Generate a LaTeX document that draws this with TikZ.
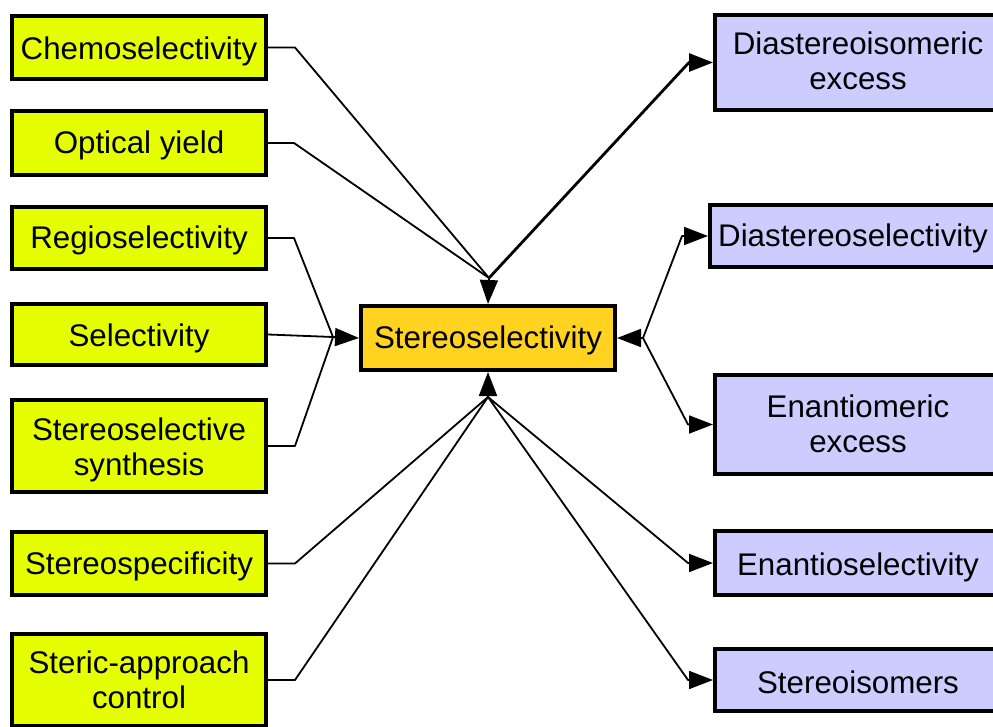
\documentclass[tikz,border=0pt]{standalone}
\usepackage{fontspec}
\setmainfont{Liberation Sans}
\usetikzlibrary{arrows.meta}
\definecolor{lyellow}{RGB}{229,255,0}
\definecolor{cgold}{RGB}{255,211,32}
\definecolor{rlav}{RGB}{204,204,255}
\newcommand\tx[2]{\raisebox{-#1pt}[\height][\depth]{\begin{tabular}[t]{@{}c@{}}#2\end{tabular}}}
\tikzset{
  box/.style={draw=black, line width=4pt, rectangle, inner sep=0pt,
    font=\fontsize{31.3}{35}\selectfont, text=black},
  lbox/.style={box, fill=lyellow, minimum width=254pt},
  cbox/.style={box, fill=cgold, minimum width=254pt, minimum height=64pt},
  rbox/.style={box, fill=rlav, minimum width=286pt},
  edge/.style={draw=black, line width=1.8pt, line join=round},
  arr/.style={edge, -{Triangle[length=24pt,width=18pt]}},
}
\begin{document}
\begin{tikzpicture}[x=1pt,y=-1pt]
\useasboundingbox (0,0) rectangle (993,727);
\fill[white] (0,0) rectangle (993,727);
% left nodes
\node[lbox, minimum height=63pt] (chemo) at (139,47.5) {\tx{5}{Chemoselectivity}};
\node[lbox, minimum height=64pt] (optical) at (139,143) {\tx{4}{Optical yield}};
\node[lbox, minimum height=62pt] (regio) at (139,238) {\tx{3.5}{Regioselectivity}};
\node[lbox, minimum height=61pt] (sel) at (139,334.5) {\tx{5}{Selectivity}};
\node[lbox, minimum height=92pt] (synth) at (139,446) {\tx{4.5}{Stereoselective\\synthesis}};
\node[lbox, minimum height=63pt] (spec) at (139,563.5) {\tx{3.5}{Stereospecificity}};
\node[lbox, minimum height=92pt] (steric) at (139,680) {\tx{4}{Steric-approach\\control}};
% center
\node[cbox] (center) at (488,338) {\tx{3}{Stereoselectivity}};
% right nodes
\node[rbox, minimum height=95pt] (de) at (858,62.5) {\tx{3}{Diastereoisomeric\\excess}};
\node[rbox, minimum height=62pt] (ds) at (853,236) {\tx{3.5}{Diastereoselectivity}};
\node[rbox, minimum height=99pt] (ee) at (858,424.5) {\tx{3.5}{Enantiomeric\\excess}};
\node[rbox, minimum height=64pt] (es) at (858,563) {\tx{5}{Enantioselectivity}};
\node[rbox, minimum height=62pt] (si) at (858,680) {\tx{6}{Stereoisomers}};
% junctions
\coordinate (jt) at (489,278);
\coordinate (jl) at (333,337);
\coordinate (jr) at (643,338);
\coordinate (jb) at (488,397);
% top junction
\draw[edge] (chemo.east) -- (295,47.5) -- (jt);
\draw[edge] (optical.east) -- (294,143) -- (jt);
\draw[arr] (jt) -- (center.north);
\draw[edge, line width=2.8pt, -{Triangle[length=24pt,width=18pt]}] (jt) -- (689,62.5) -- (de.west);
% left junction
\draw[edge] (regio.east) -- (294,238) -- (jl);
\draw[edge] (sel.east) -- (jl);
\draw[edge] (synth.east) -- (295,446) -- (jl);
\draw[arr] (jl) -- (center.west);
% right junction
\draw[arr] (jr) -- (center.east);
\draw[arr] (jr) -- (682,236) -- (ds.west);
\draw[arr] (jr) -- (688,424.5) -- (ee.west);
% bottom junction
\draw[arr] (jb) -- (center.south);
\draw[edge] (spec.east) -- (295,563.5) -- (jb);
\draw[edge] (steric.east) -- (295,680) -- (jb);
\draw[arr] (jb) -- (688,563) -- (es.west);
\draw[arr] (jb) -- (688,680) -- (si.west);
\end{tikzpicture}
\end{document}
